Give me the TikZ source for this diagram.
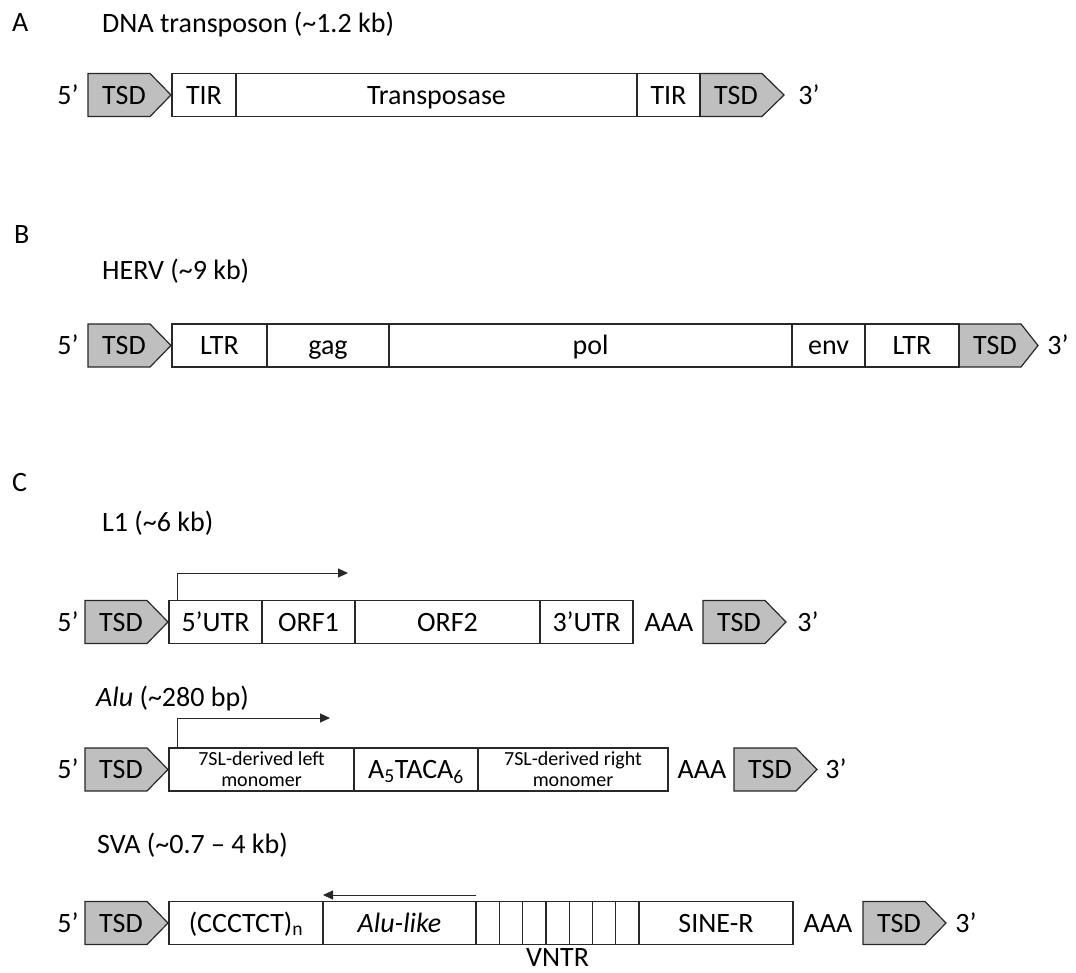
\documentclass[tikz,border=0pt]{standalone}
\usepackage{fontspec}
\setmainfont{Carlito}
\usetikzlibrary{arrows.meta}
\definecolor{tsdgray}{RGB}{191,191,191}
\definecolor{linegray}{RGB}{40,40,40}
\tikzset{
  segbox/.style={draw=linegray, line width=1.2pt, anchor=west, minimum height=43pt, inner sep=0pt, outer sep=0pt},
  seg/.style={segbox, text height=18pt, text depth=0pt},
  monoseg/.style={segbox, align=center, font=\fontsize{20}{21}\selectfont},
  tsdshape/.style={draw=linegray, fill=tsdgray, line width=1.2pt},
  lbl/.style={inner sep=0pt, text height=18pt, text depth=0pt},
  ttl/.style={anchor=base west, inner sep=0pt},
  tss/.style={draw=linegray, line width=1pt, -{Triangle[length=10pt,width=9pt]}},
}
\begin{document}
\begin{tikzpicture}[x=1pt, y=-1pt, font=\fontsize{28}{34}\selectfont]
        \useasboundingbox (0,0) rectangle (1076,972);

        % Panel letters and titles
        \node[ttl] (lblA) at (12,31) {A};
        \node[ttl] (ttlA) at (102,32) {DNA transposon (\textasciitilde1.2 kb)};
        \node[ttl] (lblB) at (14,243) {B};
        \node[ttl] (ttlB) at (102,279) {HERV (\textasciitilde9 kb)};
        \node[ttl] (lblC) at (12,491) {C};
        \node[ttl] (ttlL) at (102,531) {L1 (\textasciitilde6 kb)};
        \node[ttl] (ttlU) at (96,706) {\textit{Alu} (\textasciitilde280 bp)};
        \node[ttl] (ttlS) at (97,853) {SVA (\textasciitilde0.7 – 4 kb)};

        % Target site duplications (grey arrows)
        \foreach \x/\y/\p/\n in {88/95/21/tsdAl, 700/95/22/tsdAr, 88/345.5/21/tsdBl, 959/345.5/17/tsdBr,
                                 85/622/21/tsdLl, 703/622/21/tsdLr, 85/769.5/21/tsdUl, 734/769.5/21/tsdUr,
                                 85/923/21/tsdSl, 863/923/21/tsdSr} {
            \draw[tsdshape] (\x,\y-21.5) -- ++(62,0) -- ++(\p,21.5) -- ++(-\p,21.5) -- ++(-62,0) -- cycle;
            \node[lbl] (\n) at (\x+36,\y) {TSD};
        }

        % Ends 5' / 3'
        \foreach \x/\y/\n/\t in {68/95/fiveA/5’, 809/95/threeA/3’, 68/345.5/fiveB/5’, 1058/345.5/threeB/3’,
                                 68/622/fiveL/5’, 808/622/threeL/3’, 68/769.5/fiveU/5’, 836/769.5/threeU/3’,
                                 68/923/fiveS/5’, 966/923/threeS/3’} {
            \node[lbl] (\n) at (\x,\y) {\t};
        }

        % A: DNA transposon
        \node[seg, minimum width=64] (aTIRl) at (172,95) {TIR};
        \node[seg, minimum width=401] (aTpase) at (236,95) {Transposase};
        \node[seg, minimum width=63] (aTIRr) at (637,95) {TIR};

        % B: HERV
        \node[seg, minimum width=95] (bLTRl) at (172,345.5) {LTR};
        \node[seg, minimum width=122] (bgag) at (267,345.5) {gag};
        \node[seg, minimum width=403] (bpol) at (389,345.5) {pol};
        \node[seg, minimum width=73] (benv) at (792,345.5) {env};
        \node[seg, minimum width=94] (bLTRr) at (865,345.5) {LTR};

        % C: L1
        \node[seg, minimum width=93] (lutr5) at (169,622) {5’UTR};
        \node[seg, minimum width=93] (lorf1) at (262,622) {ORF1};
        \node[seg, minimum width=185] (lorf2) at (355,622) {ORF2};
        \node[seg, minimum width=93] (lutr3) at (540,622) {3’UTR};
        \node[lbl] (lpolyA) at (669,622) {AAA};
        \coordinate (lonetss) at (348,573);
        \draw[tss] ([xshift=8pt]lutr5.north west) |- (lonetss);

        % C: Alu
        \node[monoseg, minimum width=185] (ulmono) at (169,769.5) {7SL-derived left\\monomer};
        \node[seg, minimum width=124] (ulink) at (354,769.5) {A\textsubscript{5}TACA\textsubscript{6}};
        \node[monoseg, minimum width=190] (urmono) at (478,769.5) {7SL-derived right\\monomer};
        \node[lbl] (upolyA) at (702,769.5) {AAA};
        \coordinate (alutss) at (330,718);
        \draw[tss] ([xshift=8pt]ulmono.north west) |- (alutss);

        % C: SVA
        \node[seg, minimum width=154] (shex) at (169,923) {(CCCTCT)\textsubscript{n}};
        \node[seg, minimum width=153] (salu) at (323,923) {\textit{Alu-like}};
        \foreach \i in {0,...,6} {
            \node[seg, minimum width=23.3] (vntr\i) at (476+\i*23.3,923) {};
        }
        \node[seg, minimum width=154] (ssine) at (639,923) {SINE-R};
        \node[lbl] (spolyA) at (828,923) {AAA};
        \node[lbl, anchor=north] (vntrlbl) at ([yshift=-4pt]vntr3.south) {VNTR};
        \coordinate (svatss) at (323,895);
        \draw[tss] (salu.north east |- svatss) -- (svatss);
\end{tikzpicture}
\end{document}
